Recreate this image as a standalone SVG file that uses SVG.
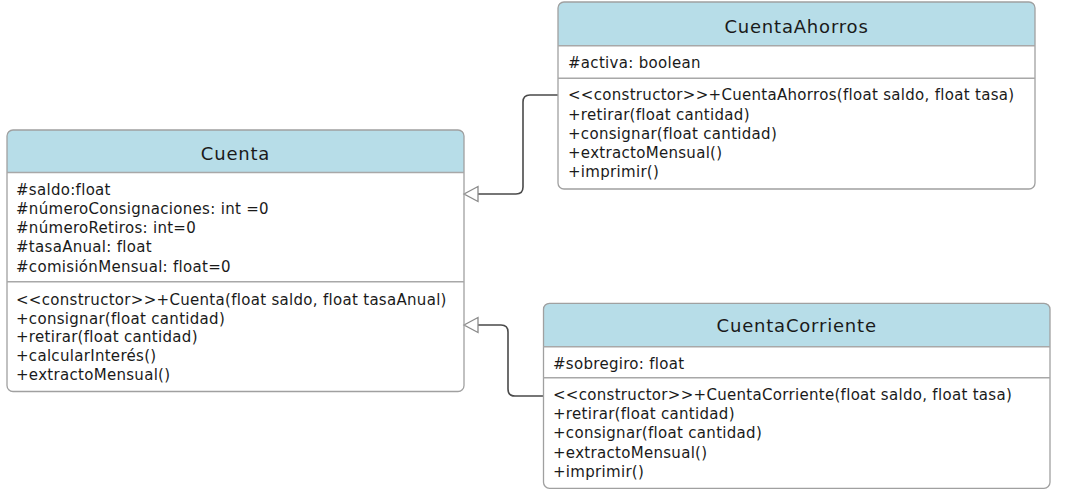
<svg xmlns="http://www.w3.org/2000/svg" width="1070" height="495" viewBox="0 0 1070 495">
<style>
.box{fill:#fff;stroke:#a0a0a0;stroke-width:1.3}
.hdr{fill:#b7dde8}
.sep{stroke:#a8a8a8;stroke-width:1.6}
.t{font-family:"DejaVu Sans",Verdana,sans-serif;font-size:15px;letter-spacing:0.3px;fill:#1a1a1a}
.title{font-family:"DejaVu Sans",Verdana,sans-serif;font-size:18px;letter-spacing:0.8px;fill:#1a1a1a;text-anchor:middle}
.conn{fill:none;stroke:#4a4a4a;stroke-width:1.6}
.head{fill:#fff;stroke:#8a8a8a;stroke-width:1.3}
</style>
<rect width="1070" height="495" fill="#fff"/>
<g id="connectors">
  <path class="conn" d="M558,95 H530 Q523,95 523,102 V187 Q523,194 516,194 H478"/>
  <polygon class="head" points="464,194 478,186.5 478,201.5"/>
  <path class="conn" d="M543,396 H515 Q508,396 508,389 V332 Q508,325 501,325 H478"/>
  <polygon class="head" points="464,325 478,317.5 478,332.5"/>
</g>
<g id="Cuenta">
  <path class="hdr" d="M13,130 H458 Q464,130 464,136 V172.5 H7 V136 Q7,130 13,130 Z"/>
  <rect class="box" x="7" y="130" width="457" height="261.5" rx="6" style="fill:none"/>
  <line class="sep" x1="7" y1="172.5" x2="464" y2="172.5"/>
  <line class="sep" x1="7" y1="281.7" x2="464" y2="281.7"/>
  <text class="title" x="235.5" y="159.5">Cuenta</text>
  <text class="t" x="16" y="195">#saldo:float</text>
  <text class="t" x="16" y="214">#númeroConsignaciones: int =0</text>
  <text class="t" x="16" y="233">#númeroRetiros: int=0</text>
  <text class="t" x="16" y="252">#tasaAnual: float</text>
  <text class="t" x="16" y="272">#comisiónMensual: float=0</text>
  <text class="t" x="16" y="305">&lt;&lt;constructor&gt;&gt;+Cuenta(float saldo, float tasaAnual)</text>
  <text class="t" x="16" y="324">+consignar(float cantidad)</text>
  <text class="t" x="16" y="342">+retirar(float cantidad)</text>
  <text class="t" x="16" y="361">+calcularInterés()</text>
  <text class="t" x="16" y="380">+extractoMensual()</text>
</g>
<g id="CuentaAhorros">
  <path class="hdr" d="M564,2 H1029 Q1035,2 1035,8 V45.7 H558 V8 Q558,2 564,2 Z"/>
  <rect class="box" x="558" y="2" width="477" height="187" rx="6" style="fill:none"/>
  <line class="sep" x1="558" y1="45.7" x2="1035" y2="45.7"/>
  <line class="sep" x1="558" y1="78.3" x2="1035" y2="78.3"/>
  <text class="title" x="796.5" y="33">CuentaAhorros</text>
  <text class="t" x="568" y="68">#activa: boolean</text>
  <text class="t" x="568" y="100">&lt;&lt;constructor&gt;&gt;+CuentaAhorros(float saldo, float tasa)</text>
  <text class="t" x="568" y="119.5">+retirar(float cantidad)</text>
  <text class="t" x="568" y="138.5">+consignar(float cantidad)</text>
  <text class="t" x="568" y="158">+extractoMensual()</text>
  <text class="t" x="568" y="177">+imprimir()</text>
</g>
<g id="CuentaCorriente">
  <path class="hdr" d="M549.5,303.3 H1044 Q1050,303.3 1050,309.3 V346.7 H543.5 V309.3 Q543.5,303.3 549.5,303.3 Z"/>
  <rect class="box" x="543.5" y="303.3" width="506.5" height="185" rx="6" style="fill:none"/>
  <line class="sep" x1="543.5" y1="346.7" x2="1050" y2="346.7"/>
  <line class="sep" x1="543.5" y1="377.7" x2="1050" y2="377.7"/>
  <text class="title" x="796.7" y="332">CuentaCorriente</text>
  <text class="t" x="553" y="369">#sobregiro: float</text>
  <text class="t" x="553" y="400">&lt;&lt;constructor&gt;&gt;+CuentaCorriente(float saldo, float tasa)</text>
  <text class="t" x="553" y="419">+retirar(float cantidad)</text>
  <text class="t" x="553" y="438">+consignar(float cantidad)</text>
  <text class="t" x="553" y="457.5">+extractoMensual()</text>
  <text class="t" x="553" y="476.5">+imprimir()</text>
</g>
</svg>
